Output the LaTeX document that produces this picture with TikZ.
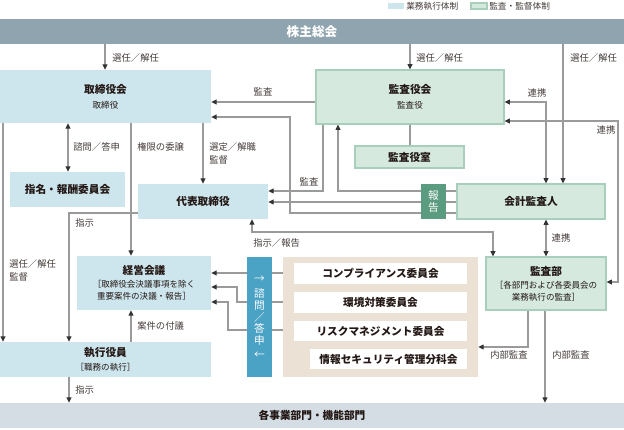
\documentclass[tikz,border=0pt]{standalone}
\usepackage{fontspec}
\setmainfont{Noto Sans CJK JP}
\usetikzlibrary{arrows.meta,backgrounds}
\definecolor{lblue}{HTML}{CDE5EC}
\definecolor{lgreen}{HTML}{D5E9DF}
\definecolor{dgreen}{HTML}{A8CFBB}
\definecolor{hgreen}{HTML}{5B9B80}
\definecolor{sblue}{HTML}{4AA2C4}
\definecolor{beige}{HTML}{EBE2D5}
\definecolor{topbar}{HTML}{8FA4AE}
\definecolor{botbar}{HTML}{D3DDE3}
\definecolor{lc}{HTML}{9A9A9A}
\definecolor{tipc}{HTML}{333333}
\definecolor{txt}{HTML}{231815}
\newcommand\pbox[7]{\node[#6, minimum width={(#4-#2)*0.75pt}, minimum height={(#5-#3)*0.75pt}] (#1) at ({(#2+#4)/2},{(#3+#5)/2}) {#7};}
\newcommand\ftitle{\fontsize{8}{9}\selectfont\bfseries}
\newcommand\fsub{\fontsize{6.4}{9}\selectfont}
\newcommand\flabel{\fontsize{7}{8.5}\selectfont}
\begin{document}
\begin{tikzpicture}[x=0.75pt,y=-0.75pt,
  bluebox/.style={fill=lblue, inner sep=0pt, align=center, text=txt, font=\fsub},
  greenbox/.style={fill=lgreen, draw=dgreen, line width=0.8pt, inner sep=0pt, align=center, text=txt, font=\fsub},
  wbox/.style={fill=white, inner sep=0pt, font=\ftitle, text=txt},
  lbl/.style={font=\flabel, text=txt!85, inner sep=0pt},
  vt/.style={font=\fontsize{8}{9}\selectfont, text=white, inner sep=0pt},
  ln/.style={draw=lc, line width=0.8pt},
  arr/.style={ln, -{Triangle[length=4pt,width=3.6pt,color=tipc]}},
  darr/.style={ln, {Triangle[length=4pt,width=3.6pt,color=tipc]}-{Triangle[length=4pt,width=3.6pt,color=tipc]}}]
\useasboundingbox (0,0) rectangle (624,429);
% legend
\pbox{lgA}{388}{3}{404}{9}{bluebox}{}
\node[lbl, font=\fontsize{6.5}{8}\selectfont, anchor=west] (lgAt) at (406,6) {業務執行体制};
\pbox{lgB}{471}{3}{487}{9}{greenbox}{}
\node[lbl, font=\fontsize{6.5}{8}\selectfont, anchor=west] (lgBt) at (489,6) {監査・監督体制};
% bars
\pbox{shu}{0}{19}{624}{44}{fill=topbar, inner sep=0pt, text=white, font=\fontsize{9.5}{11}\selectfont\bfseries}{株主総会}
\pbox{bot}{0}{403}{624}{428}{fill=botbar, inner sep=0pt, text=txt, font=\ftitle}{各事業部門・機能部門}
% execution boxes
\pbox{tori}{0}{70}{211}{123}{bluebox}{{\ftitle 取締役会}\\[2pt]取締役}
\pbox{shimei}{10}{172}{125}{207}{bluebox, font=\ftitle}{指名・報酬委員会}
\pbox{daihyo}{138}{184}{268}{219}{bluebox, font=\ftitle}{代表取締役}
\pbox{keiei}{77}{256}{211}{310}{bluebox}{{\ftitle 経営会議}\\[0.8pt]［取締役会決議事項を除く\\重要案件の決議・報告］}
\pbox{shikko}{0}{342}{211}{377}{bluebox}{{\ftitle 執行役員}\\[2pt]［職務の執行］}
% audit boxes
\pbox{kansa}{316}{70}{504}{124}{greenbox}{{\ftitle 監査役会}\\[2pt]監査役}
\pbox{shitsu}{355}{146}{464}{168}{greenbox, font=\ftitle}{監査役室}
\pbox{kaikei}{457}{184}{605}{219}{greenbox, font=\ftitle}{会計監査人}
\pbox{hokoku}{421}{184}{446}{219}{fill=hgreen, inner sep=0pt, text=white, align=center, font=\fontsize{8}{9.2}\selectfont}{報\\告}
\pbox{kansabu}{486}{257}{606}{310}{greenbox}{{\ftitle 監査部}\\[0.8pt]［各部門および各委員会の\\業務執行の監査］}
% committees
\pbox{shimon}{247}{257}{272}{377}{fill=sblue, inner sep=0pt}{}
\foreach \c/\yy/\n in {→/279/a, 諮/293/b, 問/306/c, ／/317/d, 答/328/e, 申/340/f, ←/355/g}
  \node[vt] (sv\n) at (259.5,\yy) {\c};
\pbox{panel}{283}{257}{478}{377}{fill=beige, inner sep=0pt}{}
\pbox{compl}{294}{263}{467}{284}{wbox}{コンプライアンス委員会}
\pbox{kankyo}{294}{292}{467}{313}{wbox}{環境対策委員会}
\pbox{risk}{294}{321}{467}{341}{wbox}{リスクマネジメント委員会}
\pbox{joho}{310}{349}{467}{369}{wbox}{情報セキュリティ管理分科会}
% connectors
\begin{scope}[on background layer]
\draw[arr] (shu.south -| 105,0) -- (tori.north -| 105,0);
\draw[arr] (shu.south -| 410,0) -- (kansa.north -| 410,0);
\draw[arr] (shu.south -| 563,0) -- (kaikei.north -| 563,0);
\draw[arr] (kansa.west |- 0,102) -- (tori.east |- 0,102);
\draw[arr] (kaikei.west |- 0,213) -- (290,213) -- (290,117) -- (tori.east |- 0,117);
\draw[arr] (kaikei.west |- 0,202) -- (daihyo.east |- 0,202);
\draw[arr] (kaikei.west |- 0,191) -- (338,191) -- (kansa.south -| 338,0);
\draw[arr] (kansa.south -| 323,0) -- (323,191) -- (daihyo.east |- 0,191);
\draw[ln] (kansa.south -| 410,0) -- (shitsu.north -| 410,0);
\draw[darr] (kansa.east |- 0,102) -- (546,102) -- (kaikei.north -| 546,0);
\draw[darr] (kansa.east |- 0,121) -- (618,121) -- (618,282) -- (kansabu.east |- 0,282);
\draw[darr] (kaikei.south -| 546,0) -- (kansabu.north -| 546,0);
\draw[darr] (tori.south -| 68,0) -- (shimei.north -| 68,0);
\draw[arr] (tori.south -| 3,0) -- (shikko.north -| 3,0);
\draw[arr] (tori.south -| 131,0) -- (keiei.north -| 131,0);
\draw[arr] (tori.south -| 203,0) -- (daihyo.north -| 203,0);
\draw[arr] (daihyo.west |- 0,213) -- (69,213) -- (shikko.north -| 69,0);
\draw[darr] (daihyo.south -| 252,0) -- (252,232) -- (493,232) -- (kansabu.north -| 493,0);
\draw[darr] (keiei.east |- 0,273) -- (compl.west |- 0,273);
\draw[darr] (keiei.east |- 0,287) -- (237,287) -- (237,302) -- (kankyo.west |- 0,302);
\draw[darr] (keiei.east |- 0,302) -- (228,302) -- (228,330) -- (risk.west |- 0,330);
\draw[ln] (risk.south -| 301,0) -- (301,359) -- (joho.west |- 0,359);
\draw[arr] (kansabu.south -| 528,0) -- (528,347) -- (panel.east |- 0,347);
\draw[arr] (kansabu.south -| 545,0) -- (bot.north -| 545,0);
\draw[arr] (shikko.north -| 131,0) -- (keiei.south -| 131,0);
\draw[arr] (shikko.south -| 69,0) -- (bot.north -| 69,0);
\end{scope}
% labels
\node[lbl, anchor=west] (l1) at (112,58) {選任／解任};
\node[lbl, anchor=west] (l2) at (416,58) {選任／解任};
\node[lbl, anchor=west] (l3) at (570,58) {選任／解任};
\node[lbl] (l4) at (263,92) {監査};
\node[lbl] (l5) at (537,93) {連携};
\node[lbl] (l6) at (606,130) {連携};
\node[lbl, anchor=west] (l7) at (73,147) {諮問／答申};
\node[lbl, anchor=west] (l8) at (137,147) {権限の委譲};
\node[lbl, anchor=west, align=left] (l9) at (209,153.5) {選定／解職\\[1.4pt]監督};
\node[lbl] (l10) at (309,182) {監査};
\node[lbl, anchor=west] (l11) at (75,223) {指示};
\node[lbl] (l12) at (561,238) {連携};
\node[lbl, anchor=west] (l13) at (253,243) {指示／報告};
\node[lbl, anchor=west, align=left] (l14) at (9,270.5) {選任／解任\\[1.4pt]監督};
\node[lbl, anchor=west] (l15) at (137,326) {案件の付議};
\node[lbl, anchor=west] (l16) at (490,355) {内部監査};
\node[lbl, anchor=west] (l17) at (552,355) {内部監査};
\node[lbl, anchor=west] (l18) at (75,390) {指示};
\end{tikzpicture}
\end{document}
